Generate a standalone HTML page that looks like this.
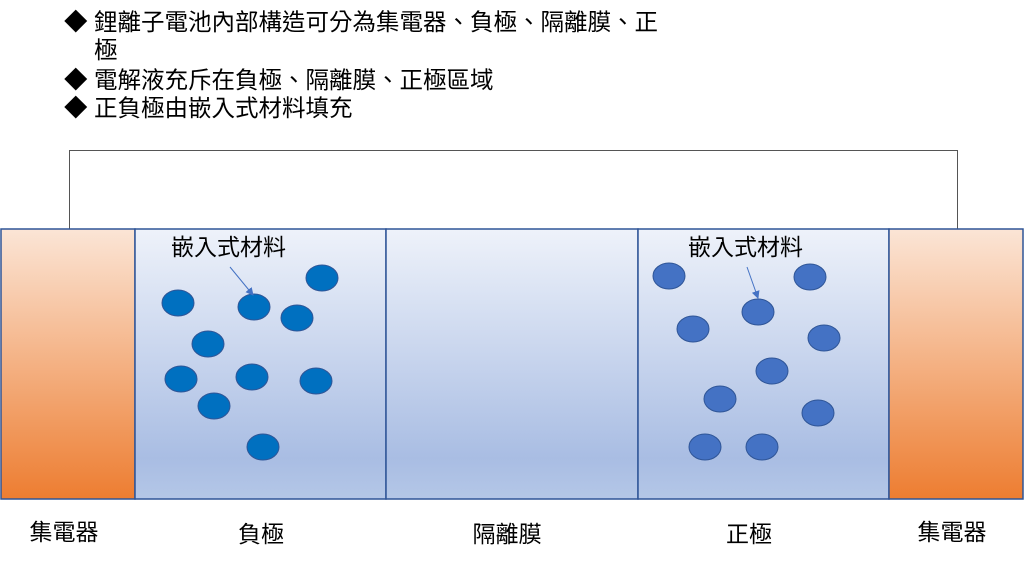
<!DOCTYPE html>
<html><head><meta charset="utf-8"><style>
body{margin:0;background:#fff;width:1024px;height:564px;overflow:hidden}
text{font-family:"Liberation Sans","Noto Sans CJK TC",sans-serif;fill:#000}
</style></head><body>
<svg width="1024" height="564" xmlns="http://www.w3.org/2000/svg">
<defs>
<linearGradient id="o" x1="0" y1="0" x2="0" y2="1"><stop offset="0" stop-color="#fbe5d6"/><stop offset="0.5" stop-color="#f4b183"/><stop offset="1" stop-color="#ed7d31"/></linearGradient>
<linearGradient id="b" x1="0" y1="0" x2="0" y2="1"><stop offset="0" stop-color="#eef2fa"/><stop offset="0.85" stop-color="#a9bde3"/><stop offset="1" stop-color="#b4c7e7"/></linearGradient>
<marker id="a" markerWidth="8" markerHeight="8" refX="7" refY="4" orient="auto" markerUnits="userSpaceOnUse"><path d="M0,0 L8,4 L0,8z" fill="#4472c4"/></marker>
</defs>
<g font-size="23.5">
<text x="64" y="30">◆</text><text x="94" y="30">鋰離子電池內部構造可分為集電器、負極、隔離膜、正</text>
<text x="94" y="58">極</text>
<text x="64" y="88">◆</text><text x="94" y="88">電解液充斥在負極、隔離膜、正極區域</text>
<text x="64" y="116">◆</text><text x="94" y="116">正負極由嵌入式材料填充</text>
</g>
<path d="M69.5,229 V150.5 H957.5 V229" fill="none" stroke="#555" stroke-width="1"/>
<g stroke="#2f5597" stroke-width="1.5">
<rect x="1" y="229" width="134" height="270" fill="url(#o)"/>
<rect x="135" y="229" width="251" height="270" fill="url(#b)"/>
<rect x="386" y="229" width="252" height="270" fill="url(#b)"/>
<rect x="638" y="229" width="251" height="270" fill="url(#b)"/>
<rect x="889" y="229" width="134" height="270" fill="url(#o)"/>
</g>
<g fill="#0070c0" stroke="#2f5597" stroke-width="1">
<ellipse cx="178" cy="303" rx="16" ry="13"/><ellipse cx="254" cy="307" rx="16" ry="13"/>
<ellipse cx="297" cy="318" rx="16" ry="13"/><ellipse cx="322" cy="278" rx="16" ry="13"/>
<ellipse cx="208" cy="344" rx="16" ry="13"/><ellipse cx="181" cy="379" rx="16" ry="13"/>
<ellipse cx="252" cy="377" rx="16" ry="13"/><ellipse cx="316" cy="381" rx="16" ry="13"/>
<ellipse cx="214" cy="406" rx="16" ry="13"/><ellipse cx="263" cy="447" rx="16" ry="13"/>
</g>
<g fill="#4472c4" stroke="#2f5597" stroke-width="1">
<ellipse cx="669" cy="276" rx="16" ry="13"/><ellipse cx="810" cy="277" rx="16" ry="13"/>
<ellipse cx="758" cy="312" rx="16" ry="13"/><ellipse cx="693" cy="329" rx="16" ry="13"/>
<ellipse cx="824" cy="338" rx="16" ry="13"/><ellipse cx="772" cy="371" rx="16" ry="13"/>
<ellipse cx="720" cy="399" rx="16" ry="13"/><ellipse cx="818" cy="413" rx="16" ry="13"/>
<ellipse cx="705" cy="447" rx="16" ry="13"/><ellipse cx="762" cy="447" rx="16" ry="13"/>
</g>
<line x1="230" y1="267" x2="253" y2="295" stroke="#4472c4" stroke-width="1" marker-end="url(#a)"/>
<line x1="747" y1="267" x2="758" y2="298" stroke="#4472c4" stroke-width="1" marker-end="url(#a)"/>
<g font-size="23">
<text x="171" y="255">嵌入式材料</text>
<text x="688" y="255">嵌入式材料</text>
</g>
<g font-size="23" text-anchor="middle">
<text x="64" y="540">集電器</text><text x="261" y="542">負極</text>
<text x="507" y="542">隔離膜</text><text x="749" y="542">正極</text>
<text x="952" y="540">集電器</text>
</g>
</svg>
</body></html>
